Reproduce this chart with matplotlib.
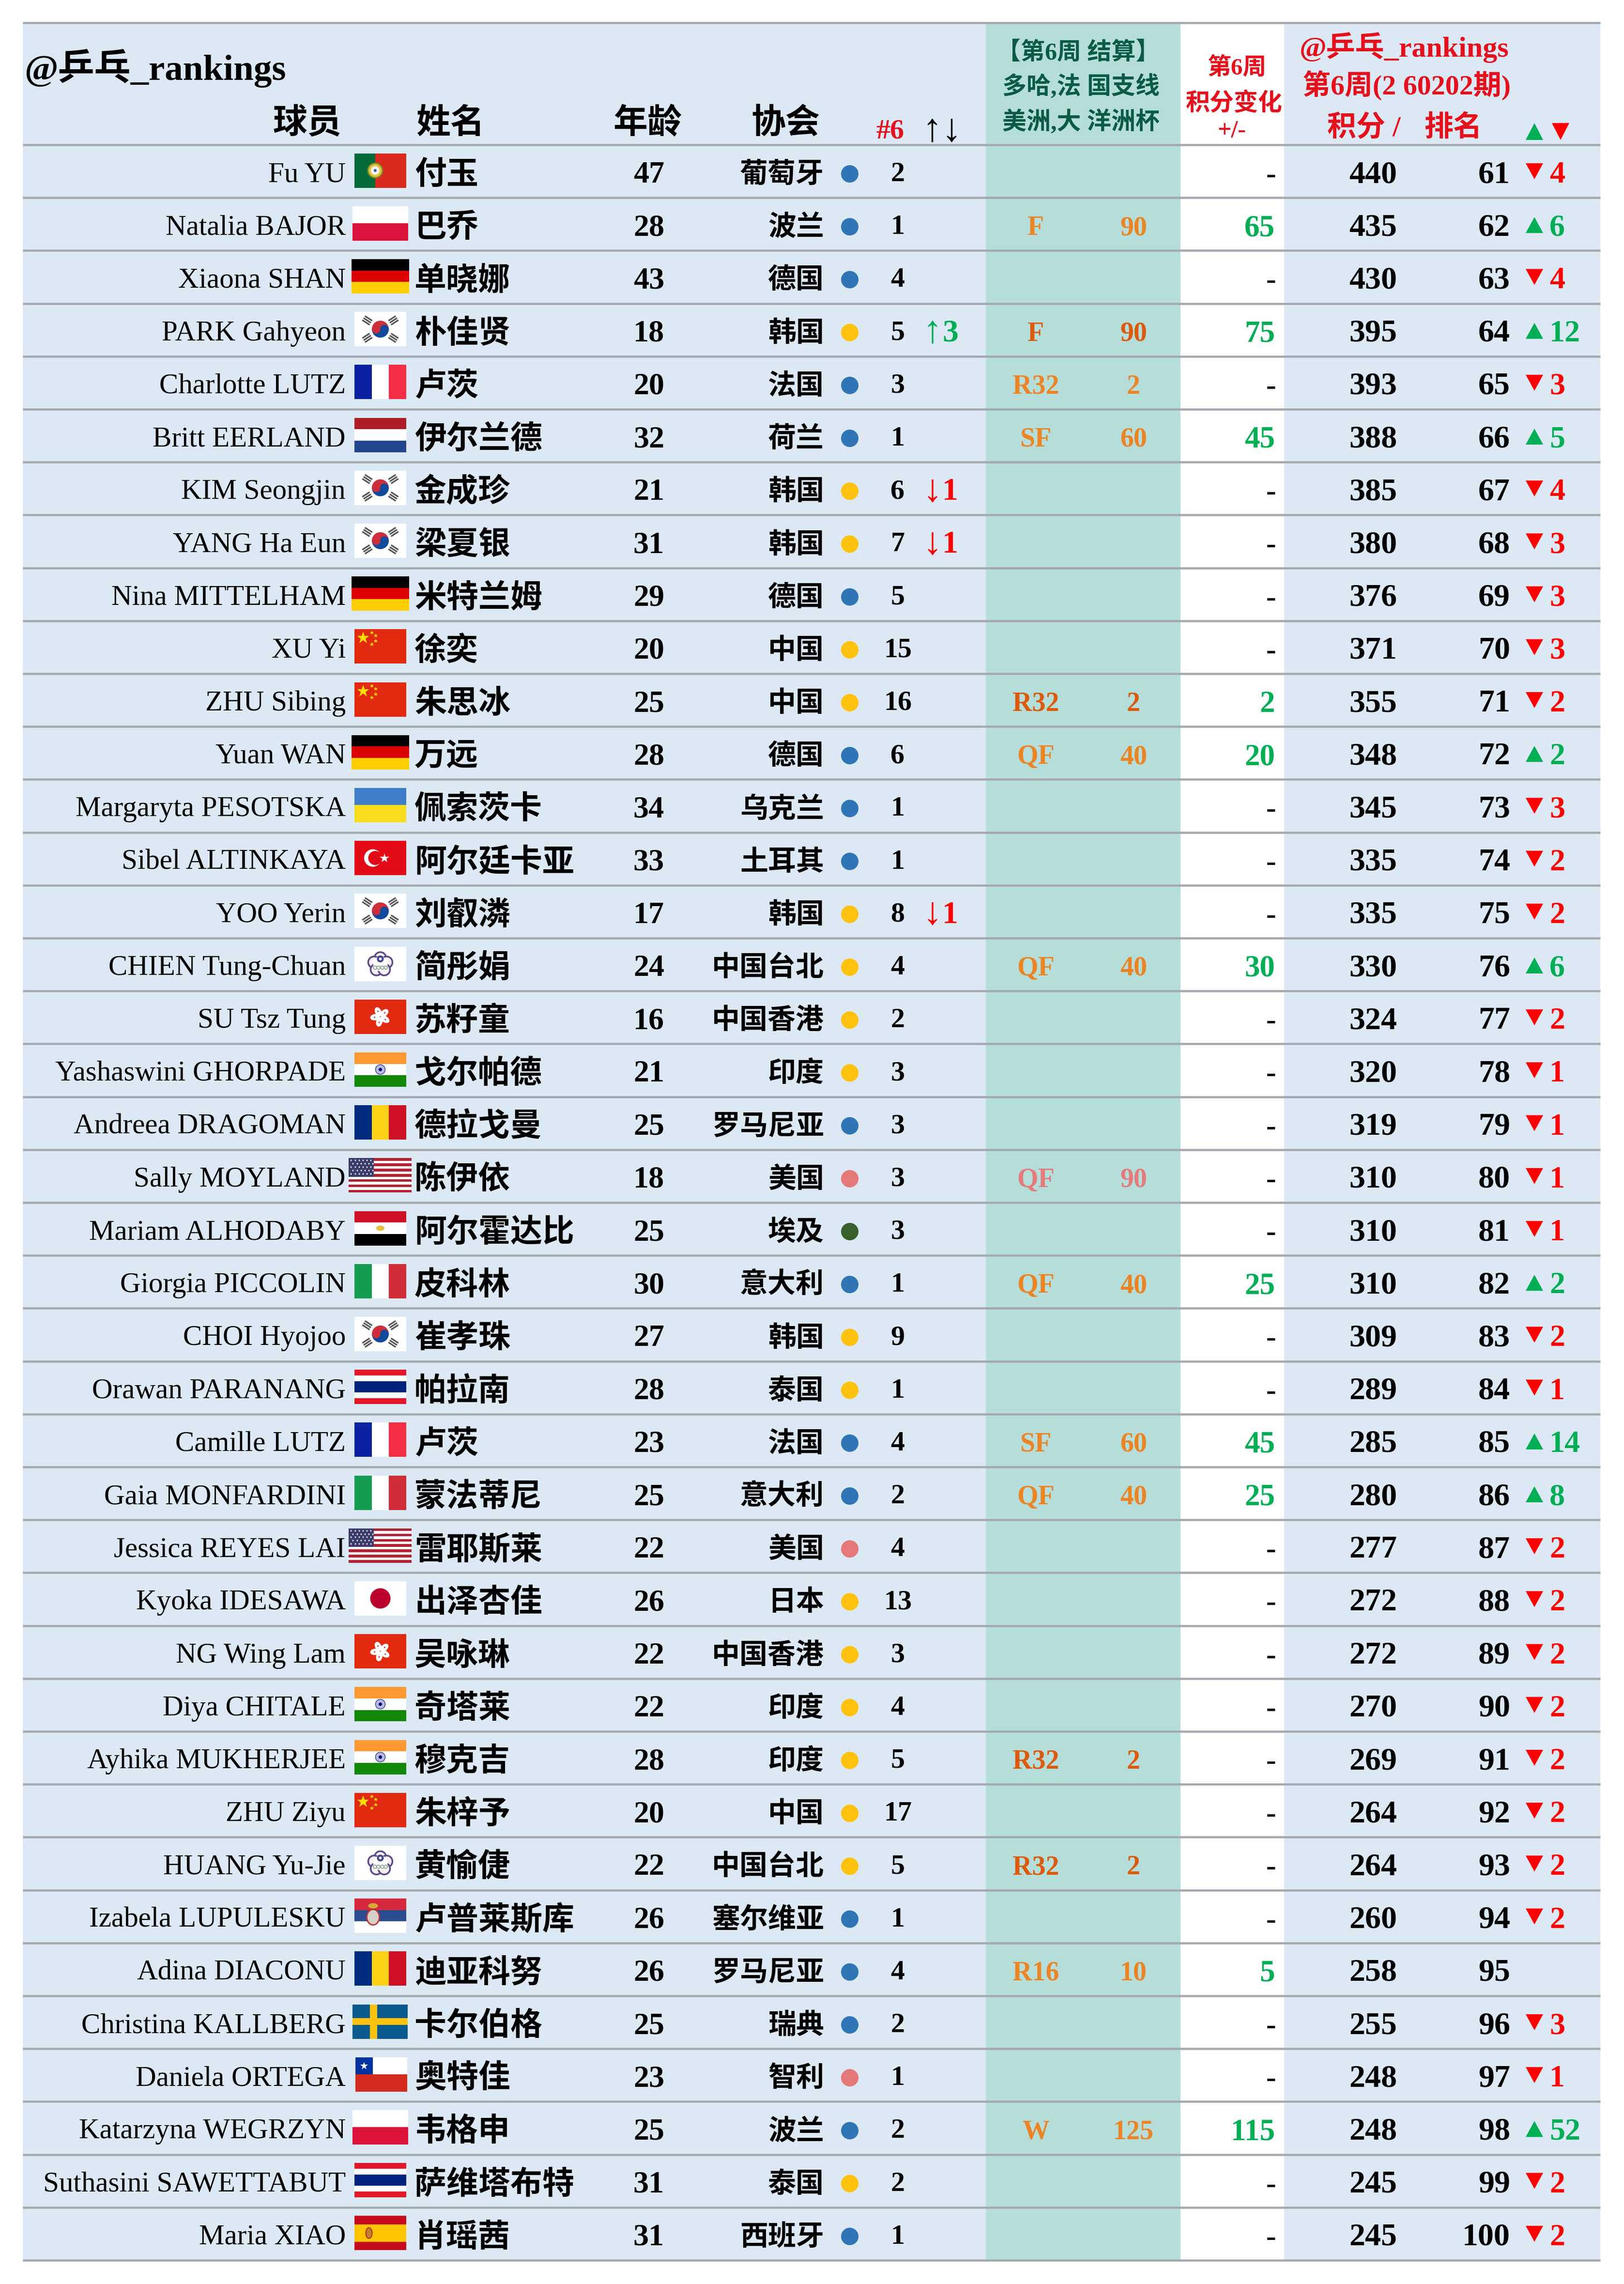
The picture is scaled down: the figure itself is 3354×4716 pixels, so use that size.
import matplotlib
matplotlib.use('Agg')
import matplotlib.pyplot as plt
from matplotlib.patches import Rectangle, Circle, Ellipse, Wedge, Polygon
from matplotlib.transforms import Affine2D

# table content, top to bottom
names_en = ['Fu YU', 'Natalia BAJOR', 'Xiaona SHAN', 'PARK Gahyeon', 'Charlotte LUTZ', 'Britt EERLAND',
            'KIM Seongjin', 'YANG Ha Eun', 'Nina MITTELHAM', 'XU Yi', 'ZHU Sibing', 'Yuan WAN',
            'Margaryta PESOTSKA', 'Sibel ALTINKAYA', 'YOO Yerin', 'CHIEN Tung-Chuan', 'SU Tsz Tung',
            'Yashaswini GHORPADE', 'Andreea DRAGOMAN', 'Sally MOYLAND', 'Mariam ALHODABY',
            'Giorgia PICCOLIN', 'CHOI Hyojoo', 'Orawan PARANANG', 'Camille LUTZ', 'Gaia MONFARDINI',
            'Jessica REYES LAI', 'Kyoka IDESAWA', 'NG Wing Lam', 'Diya CHITALE', 'Ayhika MUKHERJEE',
            'ZHU Ziyu', 'HUANG Yu-Jie', 'Izabela LUPULESKU', 'Adina DIACONU', 'Christina KALLBERG',
            'Daniela ORTEGA', 'Katarzyna WEGRZYN', 'Suthasini SAWETTABUT', 'Maria XIAO']
names_cn = ['付玉', '巴乔', '单晓娜', '朴佳贤', '卢茨', '伊尔兰德', '金成珍', '梁夏银', '米特兰姆', '徐奕',
            '朱思冰', '万远', '佩索茨卡', '阿尔廷卡亚', '刘叡潾', '简彤娟', '苏籽童', '戈尔帕德', '德拉戈曼',
            '陈伊依', '阿尔霍达比', '皮科林', '崔孝珠', '帕拉南', '卢茨', '蒙法蒂尼', '雷耶斯莱', '出泽杏佳',
            '吴咏琳', '奇塔莱', '穆克吉', '朱梓予', '黄愉倢', '卢普莱斯库', '迪亚科努', '卡尔伯格', '奥特佳',
            '韦格申', '萨维塔布特', '肖瑶茜']
flags = ['PT', 'PL', 'DE', 'KR', 'FR', 'NL', 'KR', 'KR', 'DE', 'CN', 'CN', 'DE', 'UA', 'TR', 'KR', 'TPE',
         'HK', 'IN', 'RO', 'US', 'EG', 'IT', 'KR', 'TH', 'FR', 'IT', 'US', 'JP', 'HK', 'IN', 'IN', 'CN',
         'TPE', 'RS', 'RO', 'SE', 'CL', 'PL', 'TH', 'ES']
ages = [47, 28, 43, 18, 20, 32, 21, 31, 29, 20, 25, 28, 34, 33, 17, 24, 16, 21, 25, 18,
        25, 30, 27, 28, 23, 25, 22, 26, 22, 22, 28, 20, 22, 26, 26, 25, 23, 25, 31, 31]
assocs = ['葡萄牙', '波兰', '德国', '韩国', '法国', '荷兰', '韩国', '韩国', '德国', '中国', '中国', '德国',
          '乌克兰', '土耳其', '韩国', '中国台北', '中国香港', '印度', '罗马尼亚', '美国', '埃及', '意大利',
          '韩国', '泰国', '法国', '意大利', '美国', '日本', '中国香港', '印度', '印度', '中国', '中国台北',
          '塞尔维亚', '罗马尼亚', '瑞典', '智利', '波兰', '泰国', '西班牙']
regions = ['EU', 'EU', 'EU', 'AS', 'EU', 'EU', 'AS', 'AS', 'EU', 'AS', 'AS', 'EU', 'EU', 'EU', 'AS', 'AS',
           'AS', 'AS', 'EU', 'AM', 'AF', 'EU', 'AS', 'AS', 'EU', 'EU', 'AM', 'AS', 'AS', 'AS', 'AS', 'AS',
           'AS', 'EU', 'EU', 'EU', 'AM', 'EU', 'AS', 'EU']
region_rank = [2, 1, 4, 5, 3, 1, 6, 7, 5, 15, 16, 6, 1, 1, 8, 4, 2, 3, 3, 3,
               3, 1, 9, 1, 4, 2, 4, 13, 3, 4, 5, 17, 5, 1, 4, 2, 1, 2, 2, 1]
region_move = [0, 0, 0, 3, 0, 0, -1, -1, 0, 0, 0, 0, 0, 0, -1, 0, 0, 0, 0, 0,
               0, 0, 0, 0, 0, 0, 0, 0, 0, 0, 0, 0, 0, 0, 0, 0, 0, 0, 0, 0]
stages = ['', 'F', '', 'F', 'R32', 'SF', '', '', '', '', 'R32', 'QF', '', '', '', 'QF', '', '', '', 'QF',
          '', 'QF', '', '', 'SF', 'QF', '', '', '', '', 'R32', '', 'R32', '', 'R16', '', '', 'W', '', '']
stage_points = ['', 90, '', 90, 2, 60, '', '', '', '', 2, 40, '', '', '', 40, '', '', '', 90,
                '', 40, '', '', 60, 40, '', '', '', '', 2, '', 2, '', 10, '', '', 125, '', '']
stage_tones = ['', 'l', '', 'd', 'l', 'l', '', '', '', '', 'd', 'l', '', '', '', 'l', '', '', '', 's',
               '', 'l', '', '', 'l', 'l', '', '', '', '', 'd', '', 'd', '', 'l', '', '', 'l', '', '']
changes = [0, 65, 0, 75, 0, 45, 0, 0, 0, 0, 2, 20, 0, 0, 0, 30, 0, 0, 0, 0,
           0, 25, 0, 0, 45, 25, 0, 0, 0, 0, 0, 0, 0, 0, 5, 0, 0, 115, 0, 0]
points = [440, 435, 430, 395, 393, 388, 385, 380, 376, 371, 355, 348, 345, 335, 335, 330, 324, 320, 319, 310,
          310, 310, 309, 289, 285, 280, 277, 272, 272, 270, 269, 264, 264, 260, 258, 255, 248, 248, 245, 245]
ranks = list(range(61, 101))
rank_moves = [-4, 6, -4, 12, -3, 5, -4, -3, -3, -3, -2, 2, -3, -2, -2, 6, -2, -1, -1, -1,
              -1, 2, -2, -1, 14, 8, -2, -2, -2, -2, -2, -2, -2, -2, 0, -3, -1, 52, -2, -2]

# look
BG = '#DCE9F5'
TEAL = '#B5DEDB'
LINE = '#A5A8AE'
RED = '#FF0000'
HEAD_RED = '#E5101C'
GREEN = '#00AE55'
DARK_TEAL = '#0B5A49'
REGION_COLORS = {'EU': '#2F75B5', 'AS': '#FFC20E', 'AM': '#E57878', 'AF': '#38602B'}
TONE_COLORS = {'l': '#EC8424', 'd': '#DD5A0B', 's': '#E57B7B'}
FONTS = ['Liberation Serif', 'Noto Sans CJK SC', 'DejaVu Sans']
CJK = ['Noto Sans CJK SC', 'DejaVu Sans']
FLAG_WIDTH = {'DE': 119, 'PL': 115, 'US': 130, 'SE': 114}

DPI = 100
TOP = 47
HEAD_BOTTOM = 299
ROW_H = 109.2
LEFT = 47
RIGHT = 3305

plt.rcParams['font.family'] = FONTS
fig = plt.figure(figsize=(33.54, 47.16), dpi=DPI, facecolor='white')
ax = fig.add_axes([0, 0, 1, 1])
ax.set_xlim(0, 3354)
ax.set_ylim(4716, 0)
ax.axis('off')


def put(x, y, s, px, color='black', ha='left', weight='bold', family=None):
    ax.text(x, y, s, fontsize=px * 72 / DPI, color=color, ha=ha, va='baseline', weight=weight,
            family=family or FONTS, zorder=5)


def stripes(x0, y0, w, h, colors, shares=None, vertical=False):
    shares = shares or [1] * len(colors)
    total = sum(shares)
    pos = 0
    for c, s in zip(colors, shares):
        if vertical:
            ax.add_patch(Rectangle((x0 + w * pos / total, y0), w * s / total, h, fc=c, ec='none', zorder=3))
        else:
            ax.add_patch(Rectangle((x0, y0 + h * pos / total), w, h * s / total, fc=c, ec='none', zorder=3))
        pos += s


def spot(x, y, r, color, ec='none', lw=0):
    ax.add_patch(Circle((x, y), r, fc=color, ec=ec, lw=lw, zorder=4))


def star(x, y, px, color):
    ax.plot([x], [y], marker='*', ms=px * 72 / DPI, color=color, mew=0, zorder=4)


def draw_flag(code, xc, yc):
    w = FLAG_WIDTH.get(code, 107)
    h = 71
    x0 = xc - w / 2
    y0 = yc - h / 2
    if code == 'PT':
        stripes(x0, y0, w, h, ['#046A38', '#DA291C'], [2, 3], True)
        spot(x0 + 0.4 * w, yc, 15, '#E3C23A', '#7A8A30', 2)
        spot(x0 + 0.4 * w, yc, 9, '#F4F4F4')
        spot(x0 + 0.4 * w, yc, 3, '#3A5AA0')
    elif code == 'PL':
        stripes(x0, y0, w, h, ['#FFFFFF', '#DC143C'])
    elif code == 'DE':
        stripes(x0, y0, w, h, ['#000000', '#DD0000', '#FFCE00'])
    elif code == 'FR':
        stripes(x0, y0, w, h, ['#0A22A0', '#FFFFFF', '#F42E45'], None, True)
    elif code == 'IT':
        stripes(x0, y0, w, h, ['#169B52', '#FFFFFF', '#CF2E38'], None, True)
    elif code == 'RO':
        stripes(x0, y0, w, h, ['#002B7F', '#FCD116', '#CE1126'], None, True)
    elif code == 'NL':
        stripes(x0, y0, w, h, ['#AE1C28', '#FFFFFF', '#21468B'])
    elif code == 'UA':
        stripes(x0, y0, w, h, ['#3F7EC8', '#F8DC1E'])
    elif code == 'TH':
        stripes(x0, y0, w, h, ['#E3172A', '#FFFFFF', '#00247D', '#FFFFFF', '#E3172A'], [1, 1, 2, 1, 1])
    elif code == 'EG':
        stripes(x0, y0, w, h, ['#CE1126', '#FFFFFF', '#000000'])
        ax.add_patch(Ellipse((xc, yc), 17, 11, fc='#E8C040', ec='none', zorder=4))
    elif code == 'IN':
        stripes(x0, y0, w, h, ['#FF9933', '#FFFFFF', '#138808'])
        spot(xc, yc, 10, '#B8BBDD', '#2A3F8F', 1)
        spot(xc, yc, 3.5, '#000080')
    elif code == 'RS':
        stripes(x0, y0, w, h, ['#D6293B', '#2C4C90', '#FFFFFF'])
        xe = x0 + 0.36 * w
        ax.add_patch(Ellipse((xe, yc + 3), 26, 32, fc='#D8D0C8', ec='#C03030', lw=2, zorder=4))
        ax.add_patch(Ellipse((xe, y0 + 15), 20, 11, fc='#D9A83A', ec='none', zorder=4))
    elif code == 'KR':
        stripes(x0, y0, w, h, ['#FFFFFF'])
        ax.add_patch(Wedge((xc, yc), 17.5, 180, 360, fc='#CD2E3A', ec='none', zorder=4))
        ax.add_patch(Wedge((xc, yc), 17.5, 0, 180, fc='#0F4A9C', ec='none', zorder=4))
        ax.add_patch(Circle((xc - 8.5, yc), 8.8, fc='#CD2E3A', ec='none', zorder=4))
        ax.add_patch(Circle((xc + 8.5, yc), 8.8, fc='#0F4A9C', ec='none', zorder=4))
        for dx, dy, ang in [(-27, -18, 33), (27, -18, -33), (-27, 18, -33), (27, 18, 33)]:
            for off in (-5, 0, 5):
                tr = Affine2D().rotate_deg(ang).translate(xc + dx, yc + dy) + ax.transData
                ax.add_patch(Rectangle((-9, off - 1.6), 18, 3.2, fc='#555555', ec='none', zorder=4, transform=tr))
    elif code == 'CN':
        stripes(x0, y0, w, h, ['#E12A10'])
        star(x0 + 18, y0 + 18, 26, '#FFDE00')
        for dx, dy in [(36, 7), (44, 13), (44, 24), (36, 31)]:
            star(x0 + dx, y0 + dy, 9, '#FFDE00')
    elif code == 'TR':
        stripes(x0, y0, w, h, ['#E30A17'])
        spot(x0 + 38, yc, 18, '#FFFFFF')
        spot(x0 + 43, yc, 14.5, '#E30A17')
        star(x0 + 62, yc, 20, '#FFFFFF')
    elif code == 'TPE':
        stripes(x0, y0, w, h, ['#FFFFFF'])
        for dx, dy in [(0, -12), (-13, -3), (13, -3), (-8, 12), (8, 12)]:
            spot(xc + dx, yc + dy, 12, '#F8F0F4', '#5A4A8A', 2.5)
        spot(xc, yc, 15, '#FFFFFF')
        spot(xc, yc - 10, 5, '#FFFFFF', '#44468E', 3)
        for dx in (-11, -4, 4, 11):
            spot(xc + dx, yc + 8, 3.5, 'none', '#88A090', 1.2)
    elif code == 'HK':
        stripes(x0, y0, w, h, ['#E12A10'])
        for ang in (90, 162, 234, 306, 18):
            tr = Affine2D().rotate_deg(ang + 12).translate(xc, yc) + ax.transData
            ax.add_patch(Ellipse((11, 0), 20, 13, fc='#FFFFFF', ec='none', zorder=4, transform=tr))
            ax.add_patch(Ellipse((12, 0), 3, 3, fc='#E12A10', ec='none', zorder=4, transform=tr))
    elif code == 'JP':
        stripes(x0, y0, w, h, ['#FFFFFF'])
        spot(xc, yc, 21, '#BC002D')
    elif code == 'US':
        stripes(x0, y0, w, h, ['#B22234', '#FFFFFF'] * 6 + ['#B22234'])
        ax.add_patch(Rectangle((x0, y0), 0.4 * w, 7 * h / 13, fc='#3C3B6E', ec='none', zorder=4))
        for r in range(5):
            for c in range(6):
                star(x0 + 5 + c * 8.2 + (r % 2) * 4, y0 + 5 + r * 6.8, 5, '#FFFFFF')
    elif code == 'SE':
        stripes(x0, y0, w, h, ['#0B5A8E'])
        ax.add_patch(Rectangle((x0 + 36, y0), 15, h, fc='#FDC20F', ec='none', zorder=4))
        ax.add_patch(Rectangle((x0, yc - 7), w, 14, fc='#FDC20F', ec='none', zorder=4))
    elif code == 'CL':
        x0 += 2
        stripes(x0, y0, w, h, ['#FFFFFF', '#D52B1E'])
        ax.add_patch(Rectangle((x0, y0), 36, h / 2, fc='#0033A0', ec='none', zorder=4))
        star(x0 + 18, y0 + 18, 17, '#FFFFFF')
    elif code == 'ES':
        stripes(x0, y0, w, h, ['#C60B1E', '#FFC400', '#C60B1E'], [1, 2, 1])
        ax.add_patch(Ellipse((x0 + 30, yc), 13, 22, fc='#C08030', ec='#B03020', lw=1.5, zorder=4))


# backgrounds
bottom = HEAD_BOTTOM + ROW_H * len(ranks)
ax.add_patch(Rectangle((LEFT, TOP), RIGHT - LEFT, bottom - TOP, fc=BG, ec='none', zorder=1))
ax.add_patch(Rectangle((2036, TOP), 402, bottom - TOP, fc=TEAL, ec='none', zorder=1))
ax.add_patch(Rectangle((2438, TOP), 214, bottom - TOP, fc='white', ec='none', zorder=1))

# rule lines
line_ys = [TOP] + [HEAD_BOTTOM + ROW_H * i for i in range(len(ranks) + 1)]
ax.hlines(line_ys, LEFT, RIGHT, color=LINE, lw=4.5 * 72 / DPI, zorder=2)

# header
put(50, 165, '@乒乓_rankings', 75)
put(564, 275, '球员', 71, family=CJK)
put(859, 275, '姓名', 71, family=CJK)
put(1266, 275, '年龄', 71, family=CJK)
put(1551, 275, '协会', 71, family=CJK)
put(1809, 286, '#6', 58, HEAD_RED)
put(1945, 290, '↑↓', 82, ha='center', weight='normal')
put(2227, 123, '【第6周 结算】', 50, DARK_TEAL, ha='center')
put(2233, 194, '多哈,法 国支线', 50, DARK_TEAL, ha='center')
put(2233, 268, '美洲,大 洋洲杯', 50, DARK_TEAL, ha='center')
put(2554, 154, '第6周', 49, HEAD_RED, ha='center')
put(2549, 228, '积分变化', 50, HEAD_RED, ha='center')
put(2544, 283, '+/-', 50, HEAD_RED, ha='center')
put(2684, 117, '@乒乓_rankings', 60, HEAD_RED)
put(2690, 196, '第6周(2 60202期)', 58, HEAD_RED)
put(2741, 281, '积分 /', 60, HEAD_RED)
put(2941, 281, '排名', 60, HEAD_RED)


def triangle(x, y0, y1, color):
    # y0 is the apex, y1 the base
    ax.add_patch(Polygon([(x - 18, y1), (x + 18, y1), (x, y0)], fc=color, ec='none', zorder=4))


triangle(3169, 254, 289, GREEN)
triangle(3223, 289, 254, RED)

# rows
for i in range(len(ranks)):
    top = HEAD_BOTTOM + ROW_H * i
    put(714, top + 76, names_en[i], 59, ha='right', weight='normal')
    draw_flag(flags[i], 785.5, top + 53)
    put(856, top + 81, names_cn[i], 66, family=CJK)
    put(1340, top + 78, str(ages[i]), 64, ha='center')
    put(1702, top + 78, assocs[i], 58, ha='right', family=CJK)
    spot(1755, top + 60, 18, REGION_COLORS[regions[i]])
    put(1854, top + 75, str(region_rank[i]), 58, ha='center')
    if region_move[i] > 0:
        put(1925, top + 80, '↑', 80, GREEN, ha='center', weight='normal')
        put(1946, top + 78, str(region_move[i]), 66, GREEN)
    elif region_move[i] < 0:
        put(1925, top + 80, '↓', 80, RED, ha='center', weight='normal')
        put(1946, top + 78, str(-region_move[i]), 66, RED)
    if stages[i]:
        c = TONE_COLORS[stage_tones[i]]
        put(2139, top + 77, stages[i], 56, c, ha='center')
        put(2341, top + 77, str(stage_points[i]), 56, c, ha='center')
    if changes[i]:
        put(2633, top + 79, str(changes[i]), 63, GREEN, ha='right')
    else:
        put(2635, top + 79, '-', 62, ha='right')
    put(2836, top + 78, str(points[i]), 66, ha='center')
    put(3119, top + 78, str(ranks[i]), 66, ha='right')
    m = rank_moves[i]
    if m > 0:
        triangle(3169, top + 40, top + 73, GREEN)
        put(3200, top + 78, str(m), 64, GREEN)
    elif m < 0:
        triangle(3169, top + 71, top + 38, RED)
        put(3200, top + 78, str(-m), 64, RED)

fig.savefig('out.png', dpi=DPI)
